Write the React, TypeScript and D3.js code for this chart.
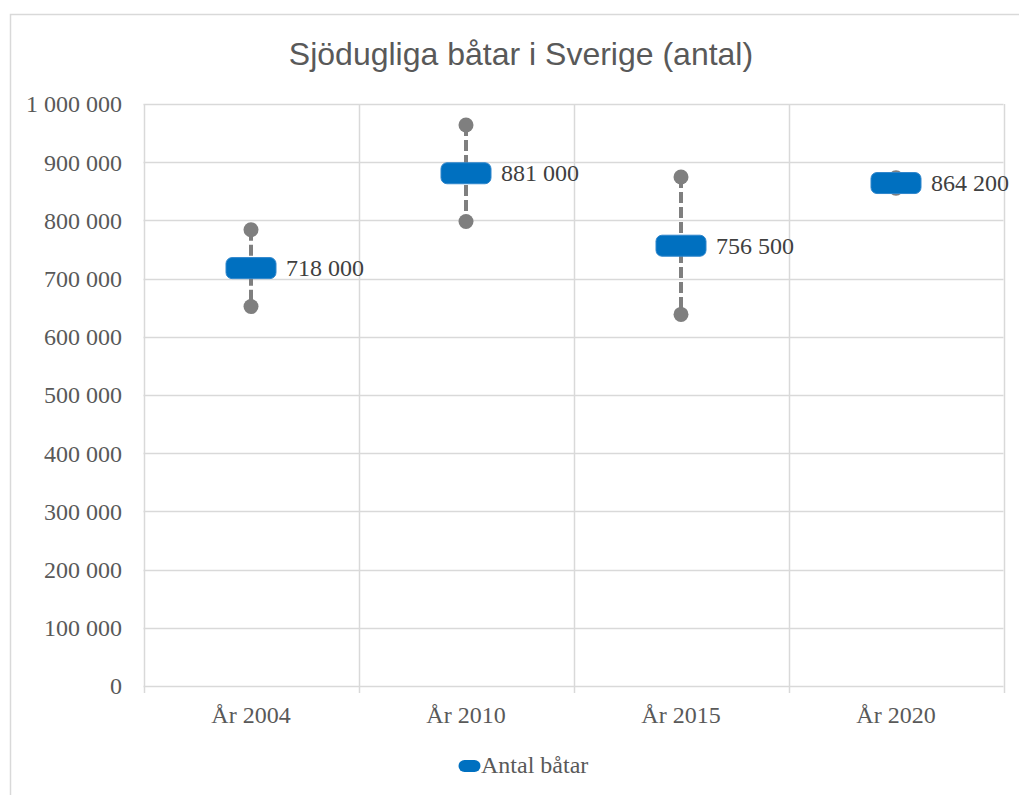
import React, { useEffect, useRef } from "react";
import * as d3 from "d3";

// data
const categories = ["År 2004", "År 2010", "År 2015", "År 2020"];
const values = [718000, 881000, 756500, 864200];
const errors = [66000, 83000, 118000, 9000];
const yTicks = [0, 100000, 200000, 300000, 400000, 500000, 600000, 700000, 800000, 900000, 1000000];
const seriesName = "Antal båtar";
const title = "Sjödugliga båtar i Sverige (antal)";

const fmt = (v: number) => d3.format(",")(v).replace(/,/g, " ");

const App: React.FC = () => {
    const svgRef = useRef<SVGSVGElement>(null);

    useEffect(() => {
        const width = 1019;
        const height = 795;
        const serif = "'Liberation Serif', 'Times New Roman', serif";
        const sans = "'Liberation Sans', Arial, sans-serif";
        const grid = "#d9d9d9";
        const blue = "#0070c0";
        const gray = "#7f7f7f";

        const svg = d3.select(svgRef.current)
            .attr("width", width)
            .attr("height", height);

        svg.selectAll("*").remove();

        svg.append("rect")
            .attr("width", width)
            .attr("height", height)
            .attr("fill", "#fff");

        // outer chart frame, clipped by the window on right/bottom
        svg.append("rect")
            .attr("x", 10.5)
            .attr("y", 14.5)
            .attr("width", width + 20)
            .attr("height", height + 20)
            .attr("fill", "none")
            .attr("stroke", grid)
            .attr("stroke-width", 1.5);

        const x = d3.scaleBand<string>()
            .domain(categories)
            .range([143.5, 1003.5])
            .padding(0);

        const y = d3.scaleLinear()
            .domain([0, 1000000])
            .range([686, 104]);

        // title
        svg.append("text")
            .attr("x", 521)
            .attr("y", 65)
            .attr("text-anchor", "middle")
            .style("font-family", sans)
            .style("font-size", "32px")
            .style("fill", "#595959")
            .text(title);

        // horizontal gridlines
        svg.append("g")
            .selectAll("line")
            .data(yTicks)
            .join("line")
            .attr("x1", 143.5)
            .attr("x2", 1003.5)
            .attr("y1", d => Math.round(y(d)) + 0.5)
            .attr("y2", d => Math.round(y(d)) + 0.5)
            .attr("stroke", grid)
            .attr("stroke-width", 1.5);

        // vertical lines at category boundaries
        const bounds = categories.map(c => x(c)!).concat([x.range()[1]]);
        svg.append("g")
            .selectAll("line")
            .data(bounds)
            .join("line")
            .attr("x1", d => Math.round(d) + 0.5)
            .attr("x2", d => Math.round(d) + 0.5)
            .attr("y1", y(1000000))
            .attr("y2", y(0) + 7)
            .attr("stroke", grid)
            .attr("stroke-width", 1.5);

        // y tick labels
        svg.append("g")
            .selectAll("text")
            .data(yTicks)
            .join("text")
            .attr("x", 122)
            .attr("y", d => y(d))
            .attr("dy", "0.35em")
            .attr("text-anchor", "end")
            .style("font-family", serif)
            .style("font-size", "24px")
            .style("fill", "#595959")
            .text(d => fmt(d));

        // x labels
        svg.append("g")
            .selectAll("text")
            .data(categories)
            .join("text")
            .attr("x", d => x(d)! + x.bandwidth() / 2)
            .attr("y", 723)
            .attr("text-anchor", "middle")
            .style("font-family", serif)
            .style("font-size", "24px")
            .style("fill", "#595959")
            .text(d => d);

        const cx = (i: number) => x(categories[i])! + x.bandwidth() / 2;
        const idx = values.map((_, i) => i);

        // error bars
        const eb = svg.append("g");
        eb.selectAll("line")
            .data(idx)
            .join("line")
            .attr("x1", i => cx(i))
            .attr("x2", i => cx(i))
            .attr("y1", i => y(values[i] + errors[i]))
            .attr("y2", i => y(values[i] - errors[i]))
            .attr("stroke", gray)
            .attr("stroke-width", 4)
            .attr("stroke-dasharray", "11,4");

        eb.selectAll("circle.top")
            .data(idx)
            .join("circle")
            .attr("class", "top")
            .attr("cx", i => cx(i))
            .attr("cy", i => y(values[i] + errors[i]))
            .attr("r", 7.5)
            .attr("fill", gray);

        eb.selectAll("circle.bottom")
            .data(idx)
            .join("circle")
            .attr("class", "bottom")
            .attr("cx", i => cx(i))
            .attr("cy", i => y(values[i] - errors[i]))
            .attr("r", 7.5)
            .attr("fill", gray);

        // markers
        svg.append("g")
            .selectAll("rect")
            .data(idx)
            .join("rect")
            .attr("x", i => cx(i) - 25)
            .attr("y", i => y(values[i]) - 10.5)
            .attr("width", 50)
            .attr("height", 21)
            .attr("rx", 6)
            .attr("fill", blue)
            .attr("stroke", "#2f86cc")
            .attr("stroke-width", 1);

        // data labels
        svg.append("g")
            .selectAll("text")
            .data(idx)
            .join("text")
            .attr("x", i => cx(i) + 35)
            .attr("y", i => y(values[i]) + 8)
            .style("font-family", serif)
            .style("font-size", "24px")
            .style("fill", "#404040")
            .text(i => fmt(values[i]));

        // legend
        const lg = svg.append("g");
        lg.append("rect")
            .attr("x", 458.5)
            .attr("y", 760)
            .attr("width", 22)
            .attr("height", 12)
            .attr("rx", 6)
            .attr("fill", blue);
        lg.append("text")
            .attr("x", 481)
            .attr("y", 773)
            .style("font-family", serif)
            .style("font-size", "24px")
            .style("fill", "#595959")
            .text(seriesName);
    }, []);

    return (
        <svg ref={svgRef} style={{ position: "absolute", left: 0, top: 0, display: "block" }}></svg>
    );
};

export default App;
